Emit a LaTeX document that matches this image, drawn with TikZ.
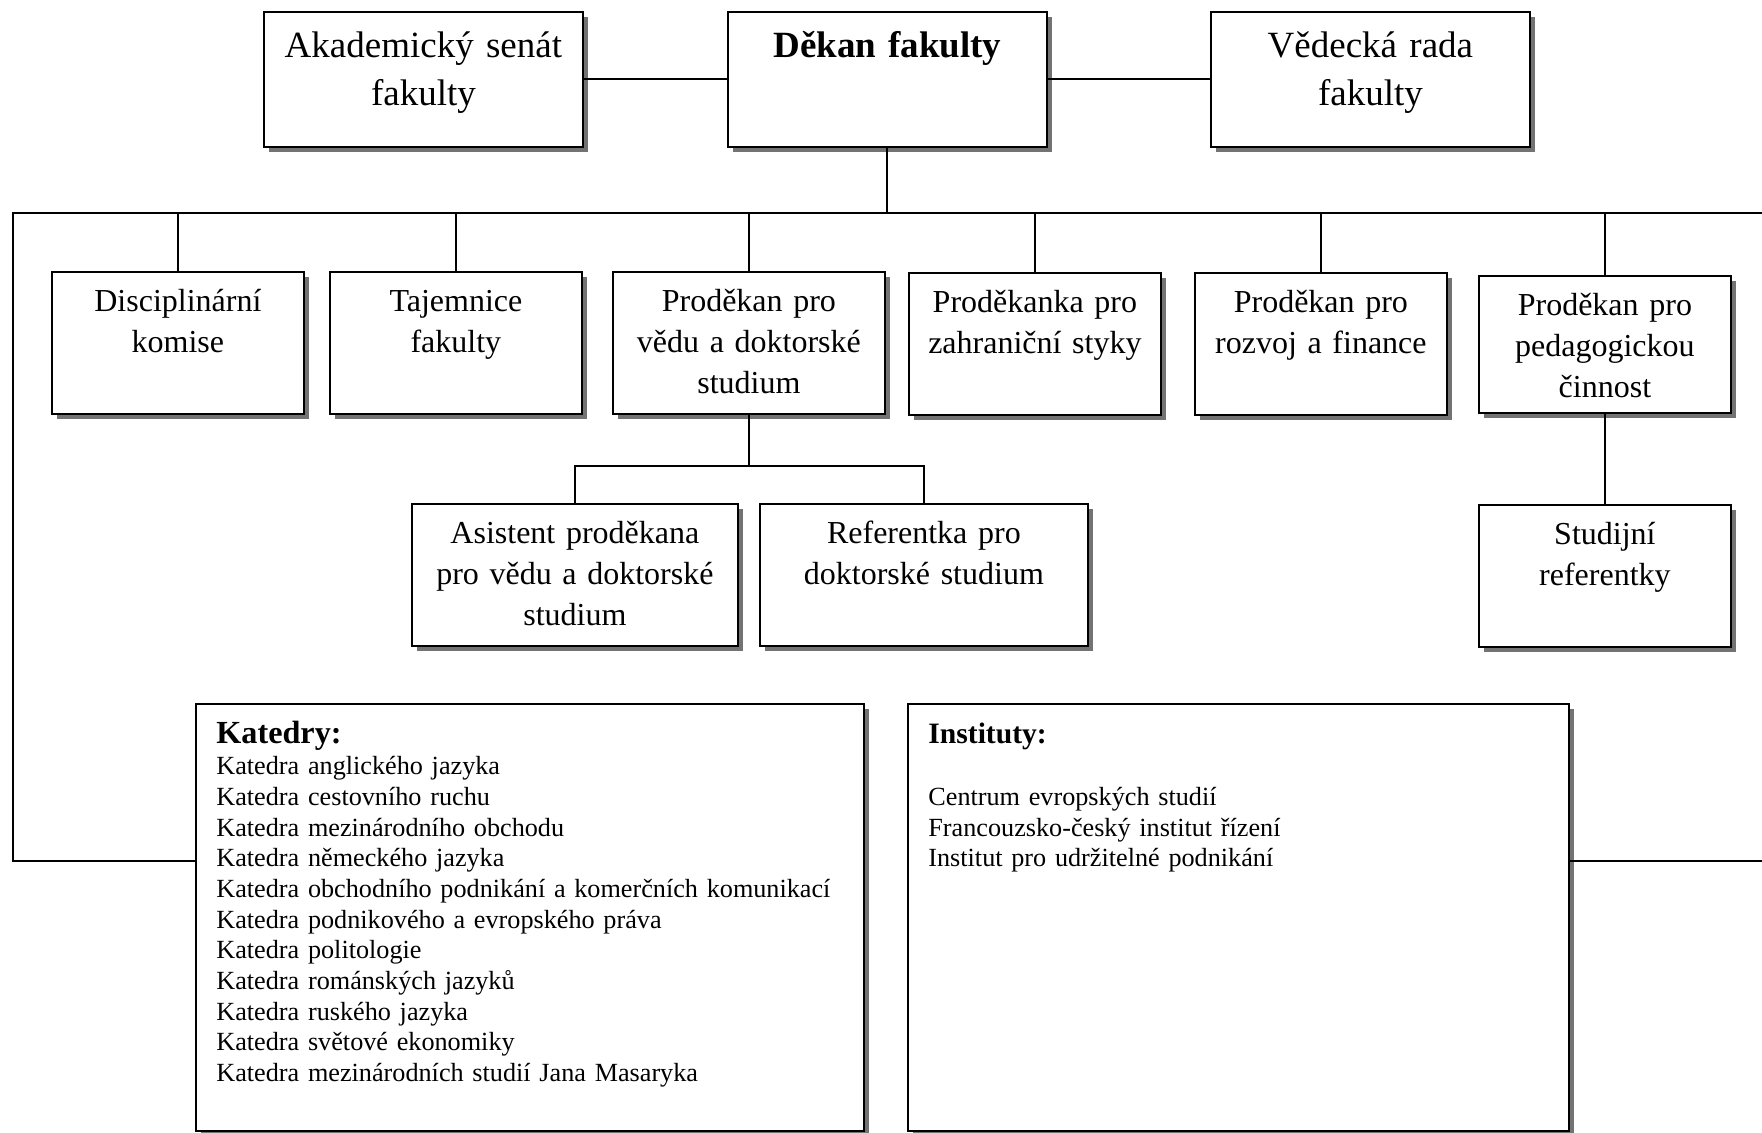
\documentclass[tikz,border=0pt]{standalone}
\usepackage{fontspec}
\setmainfont{Liberation Serif}
\usetikzlibrary{positioning,shadows}

\begin{document}
\begin{tikzpicture}[
      x=0.5pt, y=-0.5pt,
      unit/.style={
        draw,
        line width=0.9pt,
        fill=white,
        inner sep=0pt,
        drop shadow={shadow xshift=2.5pt, shadow yshift=-2.5pt,
          fill=black!55, opacity=1},
        anchor=north west,
        align=center,
        text width=#1,
        font=\fontsize{16}{20.5}\selectfont,
        text height=20pt,
        text depth=51pt
      },
      unit/.default=126pt,
      head/.style={
        unit=159.5pt,
        font=\fontsize{18.5}{24}\selectfont,
        text height=23pt,
        text depth=44.5pt
      },
      list/.style={
        unit=#1,
        align=left,
        inner xsep=10.25pt,
        font=\fontsize{13.1}{15.35}\selectfont,
        text height=20pt,
        text depth=193.5pt
      },
      link/.style={line width=1pt}
    ]
    \useasboundingbox (0,0) rectangle (1762,1132);
    %% Vedeni
    \node[head] (senat) at (263,11) {Akademický senát\\ fakulty};
    \node[head] (dekan) at (727,11) {\textbf{Děkan fakulty}};
    \node[head] (rada) at (1210,11) {Vědecká rada\\ fakulty};
    %% Prodekani
    \node[unit] (komise) at (51,271) {Disciplinární\\ komise};
    \node[unit] (tajemnice) at (329,271) {Tajemnice\\ fakulty};
    \node[unit=136pt] (veda) at (612,271) {Proděkan pro\\ vědu a doktorské\\ studium};
    \node[unit] (styky) at (908,272) {Proděkanka pro\\ zahraniční styky};
    \node[unit] (rozvoj) at (1194,272) {Proděkan pro\\ rozvoj a finance};
    \node[unit,text depth=48.5pt] (pedag) at (1478,275) {Proděkan pro\\ pedagogickou\\ činnost};
    %% Podrizeni
    \node[unit=163pt] (asistent) at (411,503) {Asistent proděkana\\ pro vědu a doktorské\\ studium};
    \node[unit=164pt] (referentka) at (759,503) {Referentka pro\\ doktorské studium};
    \node[unit,below=45pt of pedag.south west,anchor=north west] (studijni) {Studijní\\ referentky};
    %% Katedry a instituty
    \node[list=313.5pt] (katedry) at (195,703) {{\fontsize{16.1}{15.35}\bfseries Katedry:}\\
        Katedra anglického jazyka\\
        Katedra cestovního ruchu\\
        Katedra mezinárodního obchodu\\
        Katedra německého jazyka\\
        Katedra obchodního podnikání a komerčních komunikací\\
        Katedra podnikového a evropského práva\\
        Katedra politologie\\
        Katedra románských jazyků\\
        Katedra ruského jazyka\\
        Katedra světové ekonomiky\\
        Katedra mezinárodních studií Jana Masaryka};
    \node[list=310pt] (instituty) at (907,703) {{\fontsize{14.8}{15.35}\bfseries Instituty:}\\[15.35pt]
        Centrum evropských studií\\
        Francouzsko-český institut řízení\\
        Institut pro udržitelné podnikání};
    %% Spoje
    \coordinate (bus-l) at (13,213);
    \coordinate (bus-r) at (1790,213);
    \coordinate (loop-l) at (13,861);
    \coordinate (loop-r) at (1790,861);
    \coordinate (sub) at (748,466);
    \draw[link] (senat.east) -- (dekan.west);
    \draw[link] (dekan.east) -- (rada.west);
    \draw[link] (dekan.south) -- (dekan.south |- bus-l);
    \draw[link] (loop-l -| katedry.west) -- (loop-l) -- (bus-l) -- (bus-r)
      -- (loop-r) -- (loop-r -| instituty.east);
    \foreach \n in {komise,tajemnice,veda,styky,rozvoj,pedag}
      \draw[link] (\n.north) -- (\n.north |- bus-l);
    \draw[link] (veda.south) -- (veda.south |- sub);
    \draw[link] (asistent.north) -- (asistent.north |- sub) -- (referentka.north |- sub)
      -- (referentka.north);
    \draw[link] (pedag.south) -- (studijni.north);
  \end{tikzpicture}
\end{document}
